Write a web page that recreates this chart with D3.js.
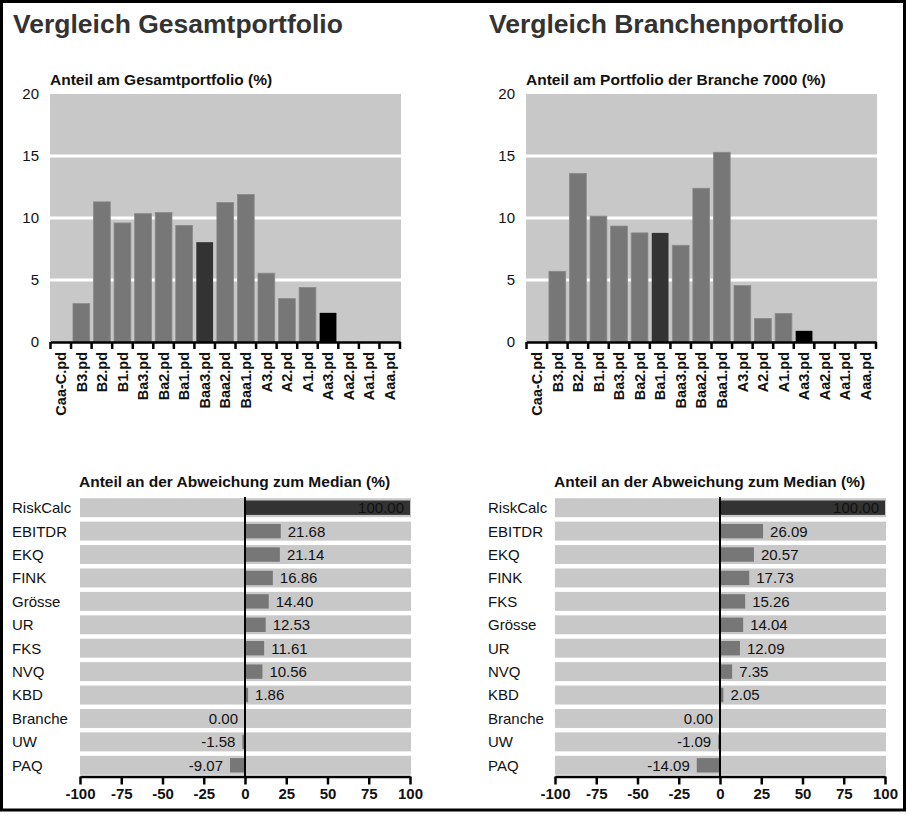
<!DOCTYPE html>
<html>
<head>
<meta charset="utf-8">
<script src="https://cdn.jsdelivr.net/npm/d3@7"></script>
<style>
  html, body { margin: 0; padding: 0; background: #fff; }
  svg { display: block; font-family: "Liberation Sans", Arial, sans-serif; }
</style>
</head>
<body>
<svg id="chart" width="908" height="815"></svg>
<script>
// ---------- DATA ----------
const ratings = ["Caa-C.pd","B3.pd","B2.pd","B1.pd","Ba3.pd","Ba2.pd","Ba1.pd","Baa3.pd","Baa2.pd","Baa1.pd","A3.pd","A2.pd","A1.pd","Aa3.pd","Aa2.pd","Aa1.pd","Aaa.pd"];
const gesamtShares  = [0, 3.1, 11.3, 9.6, 10.35, 10.45, 9.4, 8.05, 11.25, 11.9, 5.55, 3.5, 4.4, 2.35, 0, 0, 0];
const brancheShares = [0, 5.7, 13.6, 10.15, 9.35, 8.8, 8.8, 7.8, 12.4, 15.3, 4.55, 1.9, 2.3, 0.9, 0, 0, 0];
const gesamtOwnRating = "Baa3.pd";
const brancheOwnRating = "Ba1.pd";
const targetRating = "Aa3.pd";
const shareTicks = [0, 5, 10, 15, 20];

const gesamtFactors = ["RiskCalc","EBITDR","EKQ","FINK","Grösse","UR","FKS","NVQ","KBD","Branche","UW","PAQ"];
const gesamtDeviation = [100.00, 21.68, 21.14, 16.86, 14.40, 12.53, 11.61, 10.56, 1.86, 0.00, -1.58, -9.07];
const brancheFactors = ["RiskCalc","EBITDR","EKQ","FINK","FKS","Grösse","UR","NVQ","KBD","Branche","UW","PAQ"];
const brancheDeviation = [100.00, 26.09, 20.57, 17.73, 15.26, 14.04, 12.09, 7.35, 2.05, 0.00, -1.09, -14.09];
const deviationTicks = [-100, -75, -50, -25, 0, 25, 50, 75, 100];

const titles = ["Vergleich Gesamtportfolio", "Vergleich Branchenportfolio"];
const shareTitles = ["Anteil am Gesamtportfolio (%)", "Anteil am Portfolio der Branche 7000 (%)"];
const deviationTitle = "Anteil an der Abweichung zum Median (%)";

// ---------- DRAW ----------
const svg = d3.select("#chart");
const BG = "#c8c8c8", BAR = "#777777", DARK = "#333333", BLACK = "#000000";

svg.append("rect").attr("x", 1.5).attr("y", 1.5).attr("width", 903).attr("height", 808.5)
  .attr("fill", "#fff").attr("stroke", "#000").attr("stroke-width", 3);

function shareChart(ox, values, ownRating, title, subtitle) {
  const g = svg.append("g");
  g.append("text").attr("x", ox + 13).attr("y", 33).attr("font-size", 26.5).attr("font-weight", "bold")
    .attr("fill", "#333").text(title);
  g.append("text").attr("x", ox + 50).attr("y", 85).attr("font-size", 15.5).attr("font-weight", "bold")
    .attr("fill", "#111").text(subtitle);

  const x = d3.scaleBand().domain(ratings).range([ox + 50.5, ox + 400]).paddingInner(0).paddingOuter(0);
  const y = d3.scaleLinear().domain([0, 20]).range([342, 94]);

  g.append("rect").attr("x", ox + 50).attr("y", y(20)).attr("width", 351).attr("height", y(0) - y(20)).attr("fill", BG);
  g.selectAll(".grid").data(shareTicks.filter(t => t > 0 && t < 20)).enter().append("line")
    .attr("x1", ox + 50).attr("x2", ox + 401).attr("y1", d => y(d)).attr("y2", d => y(d))
    .attr("stroke", "#fff").attr("stroke-width", 3);

  const inset = 1.9;
  g.selectAll(".bar").data(ratings.map((r, i) => ({ r, v: values[i] }))).enter().append("rect")
    .attr("x", d => x(d.r) + inset).attr("width", x.bandwidth() - 2 * inset)
    .attr("y", d => y(d.v)).attr("height", d => y(0) - y(d.v))
    .attr("fill", d => d.r === ownRating ? DARK : d.r === targetRating ? BLACK : BAR)
    .attr("stroke", d => d.r === targetRating || d.r === ownRating ? "none" : "#8a8a8a").attr("stroke-width", 0.8);

  // y tick labels
  g.selectAll(".yl").data(shareTicks).enter().append("text")
    .attr("x", ox + 39).attr("y", d => y(d)).attr("dy", "0.35em").attr("text-anchor", "end")
    .attr("font-size", 15).attr("fill", "#111").text(d => d);

  // x axis
  const ax = g.append("g").attr("transform", `translate(0,${y(0)})`)
    .call(d3.axisBottom(x).tickSize(0).tickFormat(""));
  ax.select(".domain").attr("stroke", "#000").attr("stroke-width", 2.5);
  const bounds = ratings.map(r => x(r)).concat([x.range()[1]]);
  g.selectAll(".xt").data(bounds).enter().append("line")
    .attr("x1", d => d).attr("x2", d => d).attr("y1", y(0)).attr("y2", y(0) + 7)
    .attr("stroke", "#000").attr("stroke-width", 2.5);
  g.selectAll(".xl").data(ratings).enter().append("text")
    .attr("transform", d => `translate(${x(d) + x.bandwidth() / 2},352) rotate(-90)`)
    .attr("text-anchor", "end").attr("dy", "0.36em")
    .attr("font-size", 14.5).attr("font-weight", "bold").attr("fill", "#111").text(d => d);
}

function deviationChart(ox, x0, x1, factors, values) {
  const g = svg.append("g");
  g.append("text").attr("x", x0 - 1).attr("y", 487).attr("font-size", 15.5).attr("font-weight", "bold")
    .attr("fill", "#111").text(deviationTitle);

  const x = d3.scaleLinear().domain([-100, 100]).range([x0, x1]);
  const y = d3.scaleBand().domain(factors).range([496, 777]).paddingInner(0.19).paddingOuter(0.095);

  g.selectAll(".row").data(factors).enter().append("rect")
    .attr("x", x(-100)).attr("width", x(100) - x(-100) + 1)
    .attr("y", d => y(d)).attr("height", y.bandwidth()).attr("fill", BG);

  const data = factors.map((f, i) => ({ f, v: values[i] }));
  const inset = 2.3;
  g.selectAll(".bar").data(data).enter().append("rect")
    .attr("x", d => x(Math.min(0, d.v))).attr("width", d => Math.abs(x(d.v) - x(0)))
    .attr("y", d => y(d.f) + inset).attr("height", y.bandwidth() - 2 * inset)
    .attr("fill", (d, i) => i === 0 ? DARK : BAR);

  g.selectAll(".cat").data(factors).enter().append("text")
    .attr("x", ox + 12).attr("y", d => y(d) + y.bandwidth() / 2).attr("dy", "0.36em")
    .attr("font-size", 15).attr("fill", "#111").text(d => d);

  const overflow = d => d.v > 0 && x(d.v) + 52 > x(100);
  g.selectAll(".val").data(data).enter().append("text")
    .attr("x", d => overflow(d) ? x(d.v) - 6 : d.v > 0 ? x(d.v) + 7 : x(d.v) - 7)
    .attr("text-anchor", d => overflow(d) || d.v <= 0 ? "end" : "start")
    .attr("y", d => y(d.f) + y.bandwidth() / 2).attr("dy", "0.36em")
    .attr("font-size", 15).attr("fill", "#111").text(d => d.v.toFixed(2));

  // zero line
  g.append("line").attr("x1", x(0)).attr("x2", x(0)).attr("y1", 497).attr("y2", 777)
    .attr("stroke", "#000").attr("stroke-width", 2);

  const ax = g.append("g").attr("transform", "translate(0,776.5)")
    .call(d3.axisBottom(x).tickValues(deviationTicks).tickSize(8).tickPadding(4).tickSizeOuter(0)
      .tickFormat(d => String(d)));
  ax.select(".domain").attr("stroke", "#000").attr("stroke-width", 2.5);
  ax.selectAll(".tick line").attr("stroke", "#000").attr("stroke-width", 2.5);
  ax.selectAll(".tick text").attr("font-size", 15).attr("font-weight", "bold").attr("fill", "#111")
    .attr("font-family", "Liberation Sans, Arial, sans-serif");
}

shareChart(0, gesamtShares, gesamtOwnRating, titles[0], shareTitles[0]);
shareChart(476, brancheShares, brancheOwnRating, titles[1], shareTitles[1]);
deviationChart(0, 80, 410, gesamtFactors, gesamtDeviation);
deviationChart(476, 555, 885, brancheFactors, brancheDeviation);
</script>
</body>
</html>
